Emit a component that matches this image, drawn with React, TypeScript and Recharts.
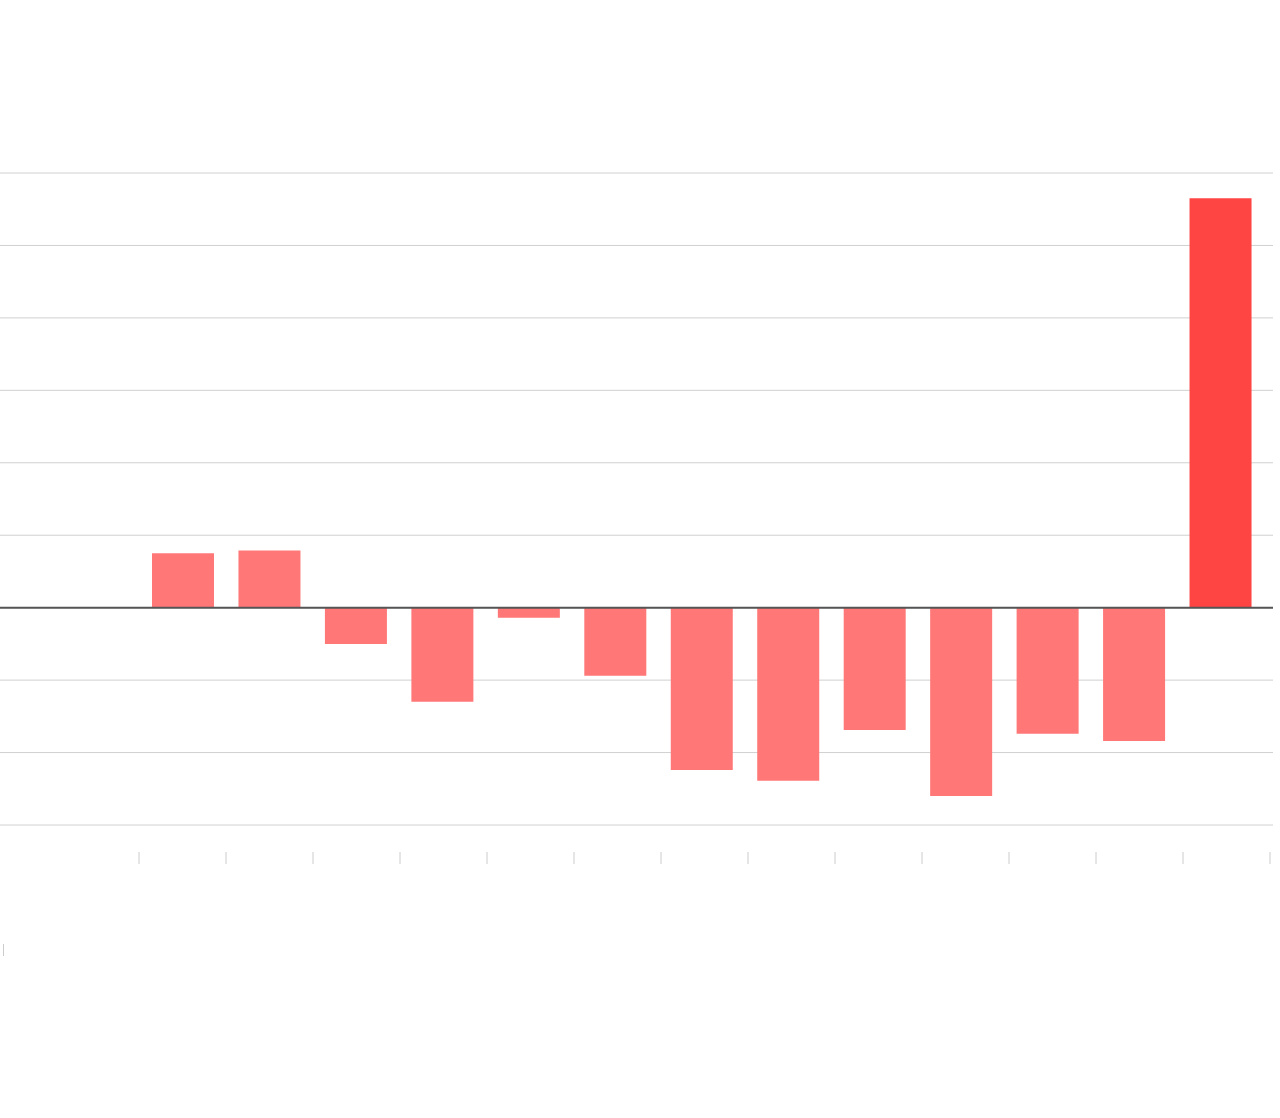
import { BarChart, Bar, Cell, XAxis, YAxis, CartesianGrid, ReferenceLine } from "recharts"

// one value per period, the last one is the highlighted total
const periods = ["p1", "p2", "p3", "p4", "p5", "p6", "p7", "p8", "p9", "p10", "p11", "p12", "p13"]
const slots = [0, 1, 2, 3, 4, 5, 6, 7, 8, 9, 10, 11, 12]
const values = [0.75, 0.79, -0.5, -1.3, -0.14, -0.94, -2.24, -2.39, -1.69, -2.6, -1.74, -1.84, 5.65]
const yTicks = [-3, -2, -1, 0, 1, 2, 3, 4, 5, 6]
const edgeTicks = [0, 1, 2, 3, 4, 5, 6, 7, 8, 9, 10, 11, 12, 13]

const data = periods.map((p, i) => ({ period: p, slot: slots[i], value: values[i] }))

const COLORS = {
  bar: "#ff7777",
  highlight: "#ff4444",
  grid: "#d0d0d0",
  zero: "#555555",
  tick: "#cccccc",
}

function EdgeTick({ x, y }: { x: number; y: number }) {
  return <line x1={x} x2={x} y1={y} y2={y + 12} stroke={COLORS.tick} strokeWidth={1} />
}

export default function App() {
  return (
    <div style={{ position: "absolute", left: 0, top: 0, width: 1280, height: 1118, background: "#fff" }}>
      <BarChart
        width={1280}
        height={1118}
        data={data}
        margin={{ top: 173, right: 7, left: 0, bottom: 253 }}
      >
        <CartesianGrid horizontal vertical={false} stroke={COLORS.grid} />
        <YAxis hide domain={[-3, 6]} ticks={yTicks} />
        <XAxis dataKey="period" hide height={0} padding={{ left: 140, right: 9 }} />
        <XAxis
          xAxisId="edges"
          dataKey="slot"
          type="number"
          scale="linear"
          domain={[0, 13]}
          allowDataOverflow
          ticks={edgeTicks}
          interval={0}
          padding={{ left: 139, right: 3 }}
          axisLine={false}
          tickLine={false}
          tickSize={0}
          tickMargin={27}
          height={40}
          tick={(props: any) => <EdgeTick x={props.x} y={props.y} />}
        />
        <ReferenceLine y={0} stroke={COLORS.zero} strokeWidth={2} />
        <Bar dataKey="value" barSize={62} isAnimationActive={false}>
          {data.map((d, i) => (
            <Cell key={d.period} fill={i === data.length - 1 ? COLORS.highlight : COLORS.bar} />
          ))}
        </Bar>
      </BarChart>
      <div style={{ position: "absolute", left: 3, top: 944, width: 1, height: 12, background: COLORS.tick }} />
    </div>
  )
}
